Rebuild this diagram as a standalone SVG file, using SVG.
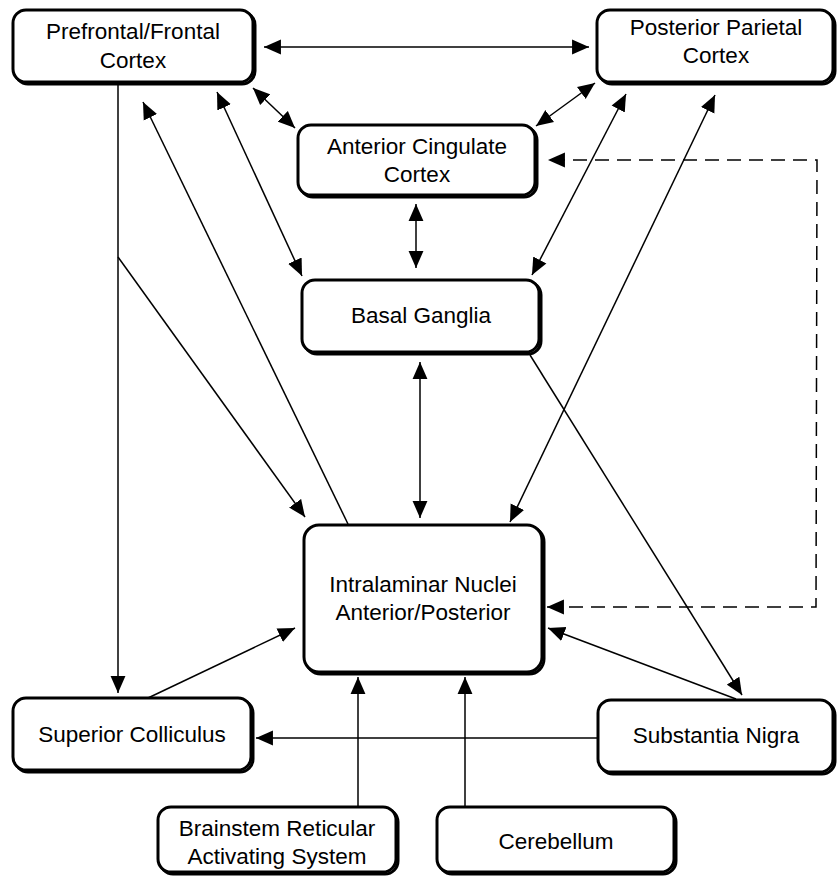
<svg xmlns="http://www.w3.org/2000/svg" width="838" height="877" viewBox="0 0 838 877">
<style>
.sh{fill:none;stroke:#000;stroke-width:3}
.bx{fill:#fff;stroke:#000;stroke-width:3}
.t{font-family:"Liberation Sans",Arial,sans-serif;font-size:22.5px;fill:#000;text-anchor:middle}
.c{fill:none;stroke:#000;stroke-width:1.5}
.d{fill:none;stroke:#000;stroke-width:1.5;stroke-dasharray:14 8}
</style>
<defs>
<marker id="a" markerUnits="userSpaceOnUse" markerWidth="18" markerHeight="16" refX="16" refY="7" orient="auto-start-reverse" viewBox="0 0 17 14">
<path d="M0,0 L16,7 L0,14 z" fill="#000"/>
</marker>
</defs>
<rect width="838" height="877" fill="#fff"/>
<g id="connectors">
<line class="c" x1="264" y1="47" x2="589" y2="47" marker-start="url(#a)" marker-end="url(#a)"/>
<line class="c" x1="253" y1="88" x2="295" y2="128" marker-start="url(#a)" marker-end="url(#a)"/>
<line class="c" x1="595" y1="83" x2="536" y2="126" marker-start="url(#a)" marker-end="url(#a)"/>
<line class="c" x1="416" y1="204" x2="416" y2="268" marker-start="url(#a)" marker-end="url(#a)"/>
<line class="c" x1="217" y1="92" x2="302" y2="276" marker-start="url(#a)" marker-end="url(#a)"/>
<line class="c" x1="626" y1="94" x2="532" y2="275" marker-start="url(#a)" marker-end="url(#a)"/>
<line class="c" x1="420" y1="362" x2="420" y2="518" marker-start="url(#a)" marker-end="url(#a)"/>
<line class="c" x1="715" y1="95" x2="510" y2="522" marker-start="url(#a)" marker-end="url(#a)"/>
<line class="c" x1="118" y1="84" x2="118" y2="693" marker-end="url(#a)"/>
<line class="c" x1="118" y1="257" x2="305" y2="517" marker-end="url(#a)"/>
<line class="c" x1="348" y1="524" x2="143" y2="102" marker-end="url(#a)"/>
<line class="c" x1="148" y1="698" x2="295" y2="628" marker-end="url(#a)"/>
<line class="c" x1="598" y1="738" x2="256" y2="738" marker-end="url(#a)"/>
<line class="c" x1="736" y1="699" x2="548" y2="628" marker-end="url(#a)"/>
<line class="c" x1="530" y1="355" x2="742" y2="695" marker-end="url(#a)"/>
<line class="c" x1="358" y1="807" x2="358" y2="677" marker-end="url(#a)"/>
<line class="c" x1="465" y1="807" x2="465" y2="677" marker-end="url(#a)"/>
<path class="d" d="M547,607 L816,607 L817,160 L548,160" marker-start="url(#a)" marker-end="url(#a)"/>
</g>
<g id="pfc">
<rect class="sh" x="15" y="12" width="240" height="72" rx="13"/>
<rect class="bx" x="13" y="10" width="240" height="72" rx="13"/>
<text class="t" x="133" y="39">Prefrontal/Frontal</text>
<text class="t" x="133" y="68">Cortex</text>
</g>
<g id="ppc">
<rect class="sh" x="599" y="12" width="236" height="72" rx="13"/>
<rect class="bx" x="597" y="10" width="236" height="72" rx="13"/>
<text class="t" x="716" y="35">Posterior Parietal</text>
<text class="t" x="716" y="63">Cortex</text>
</g>
<g id="acc">
<rect class="sh" x="300" y="127" width="237" height="70" rx="13"/>
<rect class="bx" x="298" y="125" width="237" height="70" rx="13"/>
<text class="t" x="417" y="154">Anterior Cingulate</text>
<text class="t" x="417" y="182">Cortex</text>
</g>
<g id="bg">
<rect class="sh" x="304" y="282" width="237" height="72" rx="13"/>
<rect class="bx" x="302" y="280" width="237" height="72" rx="13"/>
<text class="t" x="421" y="323">Basal Ganglia</text>
</g>
<g id="il">
<rect class="sh" x="306" y="527" width="238" height="147" rx="15"/>
<rect class="bx" x="304" y="525" width="238" height="147" rx="15"/>
<text class="t" x="423" y="592">Intralaminar Nuclei</text>
<text class="t" x="423" y="620">Anterior/Posterior</text>
</g>
<g id="sc">
<rect class="sh" x="15" y="700" width="238" height="72" rx="13"/>
<rect class="bx" x="13" y="698" width="238" height="72" rx="13"/>
<text class="t" x="132" y="742">Superior Colliculus</text>
</g>
<g id="sn">
<rect class="sh" x="600" y="702" width="235" height="72" rx="13"/>
<rect class="bx" x="598" y="700" width="235" height="72" rx="13"/>
<text class="t" x="716" y="743">Substantia Nigra</text>
</g>
<g id="bras">
<rect class="sh" x="160" y="809" width="238" height="65" rx="13"/>
<rect class="bx" x="158" y="807" width="238" height="65" rx="13"/>
<text class="t" x="277" y="836">Brainstem Reticular</text>
<text class="t" x="277" y="864">Activating System</text>
</g>
<g id="cereb">
<rect class="sh" x="439" y="809" width="237" height="65" rx="13"/>
<rect class="bx" x="437" y="807" width="237" height="65" rx="13"/>
<text class="t" x="556" y="849">Cerebellum</text>
</g>
</svg>
